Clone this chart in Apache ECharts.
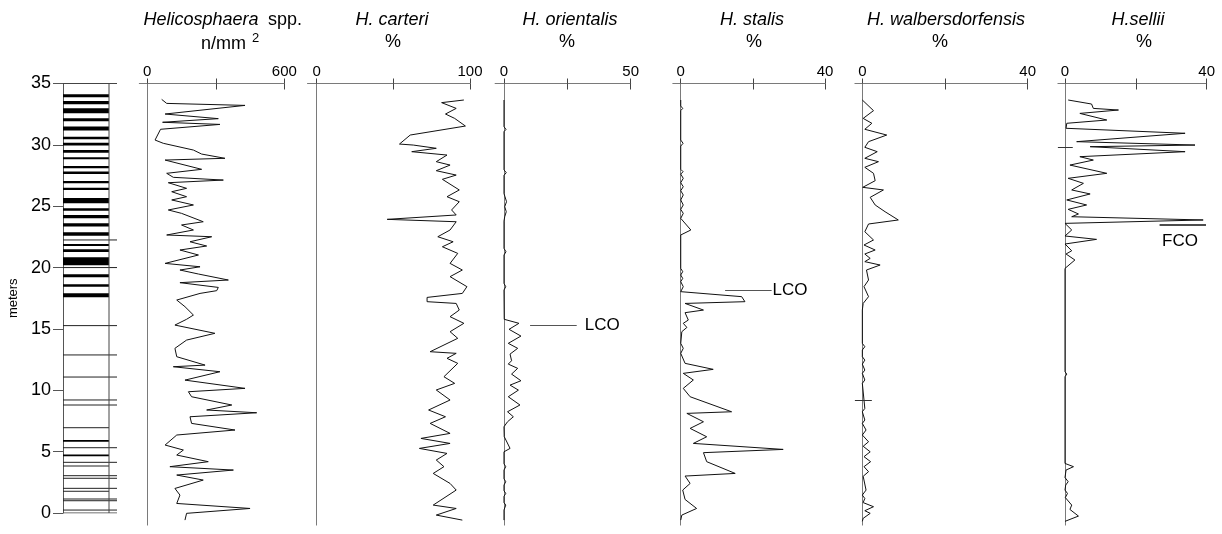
<!DOCTYPE html>
<html><head><meta charset="utf-8">
<script src="https://cdn.jsdelivr.net/npm/echarts@6/dist/echarts.min.js"></script>
<style>html,body{margin:0;padding:0;background:#fff}#c{width:1222px;height:534px}</style>
</head><body><div id="c"></div>
<script>
// ---------------- DATA ----------------
// depth ticks of lithology column
const depthTicks = [0, 5, 10, 15, 20, 25, 30, 35];
// lithology: black beds [top depth, bottom depth] (m)
const lithBeds = [[34.12,33.88],[33.58,33.31],[32.98,32.57],[32.17,31.92],[31.49,31.16],[30.67,30.45],[30.18,29.94],[29.58,29.36],[28.99,28.83],[28.28,28.09],[27.82,27.63],[27.06,26.87],[26.51,26.32],[25.67,25.24],[24.83,24.64],[24.29,24.02],[23.61,23.34],[22.88,22.60],[21.92,21.76],[21.49,21.27],[20.84,20.19],[19.45,19.21],[18.64,18.44],[17.90,17.58],[5.95,5.80],[4.77,4.63]];
// lithology: thin layers [depth, extends beyond column (1/0)]
const lithLayers = [[22.25,1],[20.0,1],[15.27,1],[12.88,1],[11.08,1],[9.21,1],[8.80,1],[6.95,0],[5.32,1],[4.13,1],[3.83,0],[3.04,1],[2.83,1],[2.01,1],[1.77,0],[1.14,1],[1.0,1],[0.24,1]];

// panel titles and tick labels
const panelTitles = ['Helicosphaera', 'H. carteri', 'H. orientalis', 'H. stalis', 'H. walbersdorfensis', 'H.sellii'];
const panelUnits = ['n/mm', '%', '%', '%', '%', '%'];
const panelTicks = [[0,300,600],[0,50,100],[0,25,50],[0,20,40],[0,20,40],[0,20,40]];
const panelLabels = [[0,600],[0,100],[0,50],[0,40],[0,40],[0,40]];

// series: [depth (m), value]
const sppData = [[33.73,63],[33.41,85],[33.25,428],[32.56,78],[32.19,311],[31.9,67],[31.73,318],[31.34,58],[30.48,34],[30.22,70],[29.68,202],[29.36,238],[29.02,340],[28.88,78],[28.14,238],[27.82,85],[27.5,114],[27.28,333],[27.07,92],[26.62,172],[26.35,107],[25.95,172],[25.69,107],[25.29,202],[24.89,92],[24.62,150],[23.95,245],[23.69,150],[23.29,202],[22.89,85],[22.75,282],[22.35,187],[22.01,260],[21.69,143],[21.29,224],[20.62,78],[20.35,231],[20.09,143],[19.77,224],[19.29,355],[19.08,143],[18.70,311],[18.44,304],[18.22,231],[17.69,129],[17.16,165],[16.49,202],[16.15,172],[15.69,121],[15.03,296],[14.49,172],[13.83,121],[13.16,129],[12.49,253],[12.36,114],[11.96,318],[11.29,165],[10.63,428],[10.36,180],[9.96,194],[9.30,370],[8.90,260],[8.68,479],[8.36,187],[7.83,194],[7.30,384],[6.90,129],[6.10,78],[5.70,158],[5.30,129],[4.77,267],[4.37,99],[4.10,377],[3.70,129],[3.30,245],[2.63,121],[2.10,143],[1.43,129],[1.03,450],[0.64,172],[0.10,165]];
const carteriData = [[33.68,96],[33.47,81.5],[33.01,91],[32.56,84],[32.21,90],[31.6,97],[30.88,61],[30.16,54],[30.08,63],[29.82,78],[29.55,62],[29.28,85],[28.75,78],[28.48,87],[28.03,78],[27.68,91],[27.34,82],[26.49,93],[25.95,85],[25.55,93],[24.89,88],[24.49,91],[24.14,46],[23.95,91],[23.29,87],[22.75,79],[22.35,89],[21.95,82],[21.42,92],[20.62,87],[20.09,95],[19.56,87],[18.76,98],[18.22,95],[17.90,72],[17.56,72],[17.42,91],[16.89,93],[16.36,87],[15.83,96],[15.16,87],[14.63,92],[13.56,74],[13.43,91],[13.03,85],[12.63,92],[11.56,83],[11.03,90],[10.50,78],[9.70,87],[8.90,73],[8.36,84],[7.83,74],[7.03,87],[6.63,68],[6.23,87],[5.83,67],[5.43,85],[4.90,78],[4.37,83],[3.83,76],[3.03,87],[2.50,91],[1.30,76],[1.03,91],[0.50,78],[0.1,95]];
const orientalisData = [[33.68,0],[31.55,0],[31.33,0.8],[31.15,0],[28.1,0],[27.87,0.9],[27.66,0],[26.2,0],[25.95,0.4],[25.55,1.0],[25.15,0.3],[24.75,0.9],[24.35,0.3],[24.0,0],[21.82,0],[21.55,0.8],[21.29,0],[19.02,0],[18.76,0.7],[18.49,0],[16.15,0.1],[15.83,5.9],[15.35,2.0],[14.81,6.7],[14.23,1.7],[13.83,5.4],[13.37,2.4],[12.84,3.0],[12.57,1.7],[12.23,5.4],[11.77,3.0],[11.24,6.7],[10.89,2.4],[10.49,5.7],[9.96,1.7],[9.30,6.3],[8.76,1.4],[8.36,3.7],[7.96,1.4],[7.56,0],[6.77,0.1],[5.83,2.4],[5.56,0],[4.6,0],[4.37,0.7],[4.1,0],[3.4,0],[3.17,0.7],[2.9,0],[2.45,0],[2.23,0.7],[2.0,0],[1.5,0],[1.30,0.7],[0.9,0],[0.1,0]];
const stalisData = [[33.68,0],[33.2,0],[33.01,0.55],[32.83,0],[30.48,0],[30.22,0.65],[30.0,0],[28.14,0],[27.95,0.65],[27.76,0],[27.42,0.7],[27.07,0],[26.75,0.7],[26.43,0],[26.09,0.7],[25.69,0],[25.29,0.7],[24.94,0],[24.62,0.7],[24.22,0],[23.29,2.8],[22.89,0],[20.22,0],[19.96,0.55],[19.69,0],[19.42,0.55],[19.16,0],[18.76,0.7],[18.36,0],[17.96,16.9],[17.56,17.8],[17.42,1.2],[16.89,6.3],[16.68,1.2],[16.09,2.1],[15.83,0.7],[15.5,1.7],[15.16,0.3],[14.23,0],[13.83,0.7],[13.43,0],[12.63,1.2],[12.15,9.0],[11.83,0.7],[11.3,3.5],[10.63,0.7],[9.96,2.6],[8.76,14.1],[8.63,1.7],[7.96,6.3],[7.43,2.6],[6.76,7.2],[6.23,3.5],[5.75,28.4],[5.49,6.3],[4.77,7.2],[3.83,15.1],[3.62,1.2],[3.03,2.6],[2.50,0.55],[1.75,1.2],[1.03,4.4],[0.50,0.3],[0.1,0]];
const walbersData = [[33.68,0],[32.83,2.7],[32.21,0.2],[31.82,2.3],[31.34,0.6],[30.88,5.9],[30.35,1.5],[29.9,0.6],[29.55,3.6],[29.02,0.6],[28.75,3.9],[28.30,0.6],[27.82,2.7],[27.23,3.1],[26.70,0.1],[26.49,5.1],[25.90,1.9],[25.29,3.1],[24.75,5.5],[24.09,8.7],[23.77,1.5],[23.15,0.6],[22.49,2.7],[22.09,0.4],[21.69,3.1],[21.37,0.6],[21.02,1.9],[20.76,0.6],[20.49,4.3],[20.09,1.0],[19.29,1.5],[18.76,0.4],[17.96,1.5],[17.42,0.2],[16.89,0],[14.23,0],[13.96,0.6],[13.7,0],[13.16,0],[12.89,0.6],[12.57,0],[12.09,0.6],[11.83,0],[11.3,0.6],[11.03,0],[9.03,0.6],[8.76,0],[8.10,0.6],[7.83,0],[7.30,0.9],[6.90,0],[6.36,1.5],[6.0,0.2],[5.56,1.9],[5.17,0.4],[4.77,2.0],[4.37,0.4],[3.97,1.5],[3.6,0.2],[2.50,0.9],[2.1,0],[1.83,0.6],[1.5,0.2],[1.17,2.7],[0.85,0.6],[0.64,1.9],[0.24,0.2],[0.0,0]];
const selliiData = [[33.68,0.9],[33.36,7.5],[33.01,8.0],[32.88,15.1],[32.61,4.2],[32.08,11.8],[31.82,0.5],[31.42,0.3],[31.02,33.9],[30.35,3.3],[30.08,36.7],[29.95,7.1],[29.55,33.9],[29.15,4.2],[28.88,8.0],[28.48,1.4],[27.82,11.8],[27.42,0.9],[27.02,5.2],[26.49,1.9],[26.17,7.1],[25.69,0.5],[25.29,6.1],[24.94,0.9],[24.57,3.8],[24.35,1.9],[24.09,39.0],[23.82,0],[23.29,1.9],[22.81,0],[22.54,8.9],[22.17,0],[21.63,1.9],[21.37,0.3],[20.89,2.8],[20.22,0],[11.96,0],[11.77,0.5],[11.56,0],[4.63,0],[4.37,2.4],[4.1,0.3],[3.5,0],[3.17,0.9],[2.9,0.2],[2.5,0],[2.23,0.7],[1.9,0.1],[1.30,1.9],[0.95,1.4],[0.42,3.8],[0,0]];

// event markers: [label, depth, from value, to value]
const orientalisLCO = ['LCO', 15.69, 10.3, 28.7];
const stalisLCO = ['LCO', 18.49, 12.3, 25.2];
const selliiFCO = ['FCO', 23.69, 26.7, 39.8];
// stray depth ticks crossing the zero line: [depth, from value, to value]
const walbersTick = [9.7, -1.8, 2.3];
const selliiTick = [29.9, -2, 2.2];

// ---------------- LAYOUT ----------------
const FONT = 'Liberation Sans, Arial, Helvetica, sans-serif';
const panelLayout = [
  {left:139.3, width:145.0, min:-35, max:600},
  {left:307.5, width:162.5, min:-6, max:100},
  {left:495.1, width:135.6, min:-3.5, max:50},
  {left:672.8, width:152.2, min:-2.2, max:40},
  {left:854.9, width:172.8, min:-1.8, max:40},
  {left:1057.9, width:148.8, min:-2, max:40}
];
const titleX = [225, 392, 570, 752, 946, 1138];
const unitX = [224, 393, 567, 754, 940, 1144];
const allData = [sppData, carteriData, orientalisData, stalisData, walbersData, selliiData];

const PANEL_TOP = 83.5, PANEL_H = 441.6, LITH_H = 429.5;
const axisGray = '#7a7a7a';

const grids = [{left:63, top:PANEL_TOP, width:54, height:LITH_H}];
const xAxes = [{gridIndex:0, type:'value', min:0, max:54, show:false}];
const yAxes = [{
  gridIndex:0, type:'value', min:0, max:35, interval:5,
  axisLine:{show:true, lineStyle:{color:'#555', width:1}},
  axisTick:{show:true, length:10, lineStyle:{color:'#555'}},
  axisLabel:{show:true, fontSize:18, fontFamily:FONT, color:'#000', margin:12,
    customValues: depthTicks},
  splitLine:{show:false},
  name:'meters', nameLocation:'middle', nameGap:43, nameRotate:90,
  nameTextStyle:{fontSize:13, fontFamily:FONT, color:'#000'}
}];
const series = [];

// lithology beds
series.push({
  type:'custom', xAxisIndex:0, yAxisIndex:0, silent:true, animation:false,
  data: lithBeds, encode:{y:[0,1]},
  renderItem:function(params, api){
    const a = api.coord([0, api.value(0)]);
    const b = api.coord([46, api.value(1)]);
    return {type:'rect', shape:{x:a[0], y:a[1], width:b[0]-a[0], height:b[1]-a[1]}, style:{fill:'#000'}};
  }
});
series.push({
  type:'custom', xAxisIndex:0, yAxisIndex:0, silent:true, animation:false,
  data: lithLayers, encode:{y:0},
  renderItem:function(params, api){
    const a = api.coord([0, api.value(0)]);
    const b = api.coord([api.value(1) ? 54 : 46, api.value(0)]);
    return {type:'line', shape:{x1:a[0], y1:a[1], x2:b[0], y2:b[1]}, style:{stroke:'#222', lineWidth:1}};
  }
});
// column frame
[[[46,0],[46,35]], [[0,35],[54,35]], [[0,0],[54,0]]].forEach(function(seg){
  series.push({type:'line', xAxisIndex:0, yAxisIndex:0, data:seg, symbol:'none', silent:true, animation:false,
    lineStyle:{color:'#444', width:1}});
});

panelLayout.forEach(function(p, i){
  const g = i + 1;
  grids.push({left:p.left, top:PANEL_TOP, width:p.width, height:PANEL_H});
  const mainIdx = xAxes.length;
  xAxes.push({
    gridIndex:g, type:'value', position:'top', min:p.min, max:p.max,
    axisLine:{show:true, onZero:false, lineStyle:{color:axisGray, width:1}},
    axisTick:{show:true, length:5, customValues:panelTicks[i], lineStyle:{color:'#444'}},
    axisLabel:{show:true, customValues:panelLabels[i], fontSize:15, fontFamily:FONT, color:'#000', margin:4},
    splitLine:{show:false}
  });
  xAxes.push({
    gridIndex:g, type:'value', position:'top', min:p.min, max:p.max,
    axisLine:{show:false, onZero:false},
    axisTick:{show:true, inside:true, length:6, customValues:panelTicks[i].slice(1), lineStyle:{color:'#444'}},
    axisLabel:{show:false}, splitLine:{show:false}
  });
  yAxes.push({
    gridIndex:g, type:'value', min:-0.3, max:35,
    axisLine:{show:true, onZero:true, onZeroAxisIndex:mainIdx, lineStyle:{color:axisGray, width:1}},
    axisTick:{show:false}, axisLabel:{show:false}, splitLine:{show:false}
  });
  series.push({
    type:'line', xAxisIndex:mainIdx, yAxisIndex:g, symbol:'none', animation:false, silent:true,
    data: allData[i].map(function(d){ return [d[1], d[0]]; }),
    lineStyle:{color:'#111', width:1}
  });
});

function seg(d, from, to, extra){
  const a = {coord:[from, d]}; const b = {coord:[to, d]};
  if (extra) { Object.assign(a, extra); }
  return [a, b];
}
function marker(seriesIdx, m, labelPos, dist, lineColor, lineWidth, tick){
  const data = [seg(m[1], m[2], m[3])];
  if (tick) {
    data.push(seg(tick[0], tick[1], tick[2], {label:{show:false}, lineStyle:{color:'#333', width:1}}));
  }
  series[seriesIdx].markLine = {
    silent:true, symbol:['none','none'], animation:false,
    lineStyle:{color:lineColor, width:lineWidth, type:'solid'},
    label:{show:true, position:labelPos, formatter:m[0], fontSize:17, fontFamily:FONT, color:'#000', distance:dist},
    data:data
  };
}
const firstPanelSeries = series.length - 6;
marker(firstPanelSeries + 2, orientalisLCO, 'end', 8, '#555', 1);
marker(firstPanelSeries + 3, stalisLCO, 'end', 1, '#555', 1);
marker(firstPanelSeries + 5, selliiFCO, 'insideEndBottom', 8, '#111', 1.5, selliiTick);
series[firstPanelSeries + 4].markLine = {
  silent:true, symbol:['none','none'], animation:false,
  lineStyle:{color:'#333', width:1, type:'solid'}, label:{show:false},
  data:[seg(walbersTick[0], walbersTick[1], walbersTick[2])]
};

// titles
const graphics = [];
graphics.push({type:'text', x:143.5, y:20, style:{text:'Helicosphaera', font:'italic 18px ' + FONT, fill:'#000', textAlign:'left', textVerticalAlign:'middle'}});
graphics.push({type:'text', x:268, y:20, style:{text:'spp.', font:'18px ' + FONT, fill:'#000', textAlign:'left', textVerticalAlign:'middle'}});
graphics.push({type:'text', x:246, y:44, style:{text:'n/mm', font:'18px ' + FONT, fill:'#000', textAlign:'right', textVerticalAlign:'middle'}});
graphics.push({type:'text', x:252, y:38, style:{text:'2', font:'13px ' + FONT, fill:'#000', textAlign:'left', textVerticalAlign:'middle'}});
for (let i = 1; i < 6; i++) {
  graphics.push({type:'text', x:titleX[i], y:20, style:{text:panelTitles[i], font:'italic 18px ' + FONT, fill:'#000', textAlign:'center', textVerticalAlign:'middle'}});
  graphics.push({type:'text', x:unitX[i], y:42, style:{text:panelUnits[i], font:'18px ' + FONT, fill:'#000', textAlign:'center', textVerticalAlign:'middle'}});
}

const chart = echarts.init(document.getElementById('c'), null, {renderer:'canvas'});
chart.setOption({
  backgroundColor:'#fff', animation:false,
  grid:grids, xAxis:xAxes, yAxis:yAxes, series:series, graphic:graphics
});
</script></body></html>
